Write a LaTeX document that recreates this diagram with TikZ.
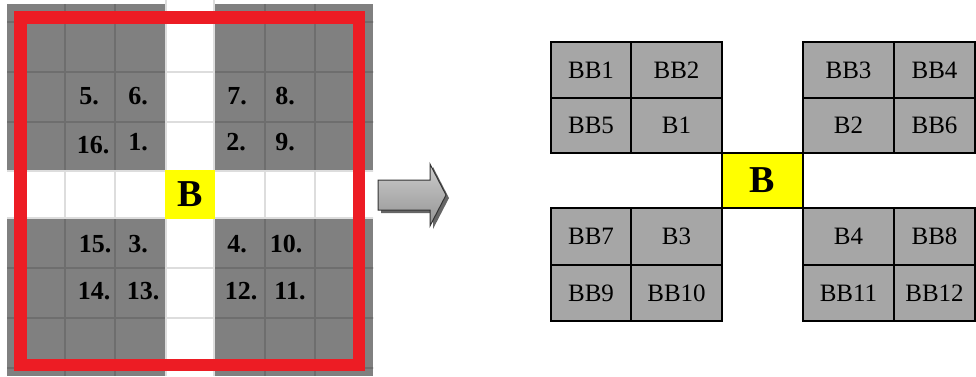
\documentclass[tikz,border=0pt]{standalone}
\usepackage{fontspec}
\setmainfont{Liberation Serif}
\definecolor{redframe}{HTML}{ED1C24}
\definecolor{cellgray}{HTML}{808080}
\definecolor{darkline}{HTML}{6E6E6E}
\definecolor{lightline}{HTML}{DDDDDD}
\definecolor{boxgray}{HTML}{A6A6A6}
\definecolor{byellow}{HTML}{FFFF00}
\begin{document}
\begin{tikzpicture}[x=1pt,y=-1pt,
  cell/.style={draw=black, line width=2.2pt, fill=boxgray, inner sep=0pt,
    font=\fontsize{25}{25}\selectfont},
  num/.style={inner sep=0pt, font=\bfseries\fontsize{26}{26}\selectfont},
  dline/.style={darkline, line width=1.6pt},
  lline/.style={lightline, line width=1.6pt}
]
\useasboundingbox (0,0) rectangle (976,376);

% ---- left grid ----
\fill[cellgray] (7,4) rectangle (373,376);
\fill[white] (165,0) rectangle (215,376);
\fill[white] (7,170) rectangle (373,219);
\begin{scope}
  \clip (7,4) rectangle (165,170) (215,4) rectangle (373,170)
        (7,219) rectangle (165,376) (215,219) rectangle (373,376);
  \foreach \x in {65,115,265,315} \draw[dline] (\x,0) -- (\x,376);
  \foreach \y in {22,72,122,268,318,368} \draw[dline] (0,\y) -- (380,\y);
\end{scope}
\begin{scope}
  \clip (165,0) rectangle (215,376) (7,170) rectangle (165,219) (215,170) rectangle (373,219);
  \foreach \x in {65,115,265,315} \draw[lline] (\x,170) -- (\x,219);
  \foreach \y in {22,72,122,268,318,368} \draw[lline] (165,\y) -- (215,\y);
  \draw[lline] (0,171) -- (380,171);
  \draw[lline] (0,218) -- (380,218);
  \draw[lline] (166,0) -- (166,376);
  \draw[lline] (214,0) -- (214,376);
\end{scope}
\node[fill=byellow, minimum width=50pt, minimum height=49pt, inner sep=0pt,
  font=\bfseries\fontsize{38}{38}\selectfont] (lb) at (190,194.5) {B};

\draw[redframe, line width=12.5pt] (20.5,17.5) rectangle (359,365);

\node[num] (n5)  at (89,96)   {5.};
\node[num] (n6)  at (138,96)  {6.};
\node[num] (n7)  at (237,96)  {7.};
\node[num] (n8)  at (285,96)  {8.};
\node[num] (n16) at (93,145)  {16.};
\node[num] (n1)  at (138,142) {1.};
\node[num] (n2)  at (236,142) {2.};
\node[num] (n9)  at (285,142) {9.};
\node[num] (n15) at (95,244)  {15.};
\node[num] (n3)  at (138,244) {3.};
\node[num] (n4)  at (237,244) {4.};
\node[num] (n10) at (286,244) {10.};
\node[num] (n14) at (94,291)  {14.};
\node[num] (n13) at (143,291) {13.};
\node[num] (n12) at (241,291) {12.};
\node[num] (n11) at (290,291) {11.};

% ---- arrow ----
\fill[black!60] (381,183) -- (433,183) -- (433,167) -- (449,198) -- (433,229)
  -- (433,213) -- (381,213) -- cycle;
\shade[top color=black!20, bottom color=black!42, draw=black!80, line width=1pt]
  (378,180) -- (430,180) -- (430,164) -- (446,195) -- (430,226)
  -- (430,210) -- (378,210) -- cycle;

% ---- right diagram ----
\node[cell, minimum width=80pt, minimum height=56pt] (bb1) at (591,70) {BB1};
\node[cell, minimum width=91pt, minimum height=56pt] (bb2) at (676.5,70) {BB2};
\node[cell, minimum width=80pt, minimum height=55pt] (bb5) at (591,125.5) {BB5};
\node[cell, minimum width=91pt, minimum height=55pt] (b1) at (676.5,125.5) {B1};
\node[cell, minimum width=91pt, minimum height=56pt] (bb3) at (848.5,70) {BB3};
\node[cell, minimum width=81pt, minimum height=56pt] (bb4) at (934.5,70) {BB4};
\node[cell, minimum width=91pt, minimum height=55pt] (b2) at (848.5,125.5) {B2};
\node[cell, minimum width=81pt, minimum height=55pt] (bb6) at (934.5,125.5) {BB6};
\node[cell, fill=byellow, minimum width=81pt, minimum height=55pt,
  font=\bfseries\fontsize{38}{38}\selectfont] (rb) at (762.5,180.5) {B};
\node[cell, minimum width=80pt, minimum height=57pt] (bb7) at (591,236.5) {BB7};
\node[cell, minimum width=91pt, minimum height=57pt] (b3) at (676.5,236.5) {B3};
\node[cell, minimum width=80pt, minimum height=56pt] (bb9) at (591,293) {BB9};
\node[cell, minimum width=91pt, minimum height=56pt] (bb10) at (676.5,293) {BB10};
\node[cell, minimum width=91pt, minimum height=57pt] (b4) at (848.5,236.5) {B4};
\node[cell, minimum width=81pt, minimum height=57pt] (bb8) at (934.5,236.5) {BB8};
\node[cell, minimum width=91pt, minimum height=56pt] (bb11) at (848.5,293) {BB11};
\node[cell, minimum width=81pt, minimum height=56pt] (bb12) at (934.5,293) {BB12};
\end{tikzpicture}
\end{document}
